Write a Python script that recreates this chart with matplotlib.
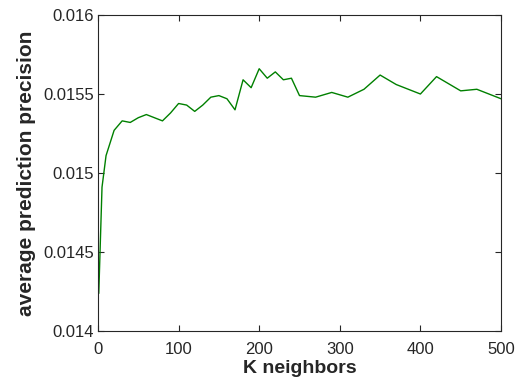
import matplotlib
matplotlib.use("Agg")
import matplotlib.pyplot as plt

k_neighbors = [1, 5, 10, 20, 30, 40, 50, 60, 70, 80, 90, 100, 110, 120, 130, 140,
               150, 160, 170, 180, 190, 200, 210, 220, 230, 240, 250, 270, 290,
               310, 330, 350, 370, 400, 420, 450, 470, 500]
precision = [0.01424, 0.01491, 0.01511, 0.01527, 0.01533, 0.01532, 0.01535,
             0.01537, 0.01535, 0.01533, 0.01538, 0.01544, 0.01543, 0.01539,
             0.01543, 0.01548, 0.01549, 0.01547, 0.01540, 0.01559, 0.01554,
             0.01566, 0.01560, 0.01564, 0.01559, 0.01560, 0.01549, 0.01548,
             0.01551, 0.01548, 0.01553, 0.01562, 0.01556, 0.01550, 0.01561,
             0.01552, 0.01553, 0.01547]
xticks = [0, 100, 200, 300, 400, 500]
yticks = [0.014, 0.0145, 0.015, 0.0155, 0.016]
ytick_labels = ["0.014", "0.0145", "0.015", "0.0155", "0.016"]

plt.rcParams['font.family'] = ['Liberation Sans', 'DejaVu Sans']

fig = plt.figure(figsize=(5.22, 3.92), dpi=100)
ax = fig.add_axes([0.1877, 0.1556, 0.7721, 0.8061])
ax.plot(k_neighbors, precision, color='#008000', linewidth=1.0)
ax.set_xlim(0, 500)
ax.set_ylim(0.014, 0.016)
ax.set_xticks(xticks)
ax.set_xticklabels([str(t) for t in xticks])
ax.set_yticks(yticks)
ax.set_yticklabels(ytick_labels)
ax.tick_params(direction='in', length=4, width=0.8, colors='#262626',
               labelsize=12, top=True, right=True)
ax.tick_params(axis='x', pad=8)
ax.tick_params(axis='y', pad=3)
for s in ax.spines.values():
    s.set_color('#262626')
    s.set_linewidth(0.8)
ax.set_xlabel('K neighbors', fontsize=14, fontweight='bold', color='#262626', labelpad=2)
ax.set_ylabel('average prediction precision', fontsize=15, fontweight='bold', color='#262626', labelpad=5)
fig.savefig('out.png', dpi=100)
